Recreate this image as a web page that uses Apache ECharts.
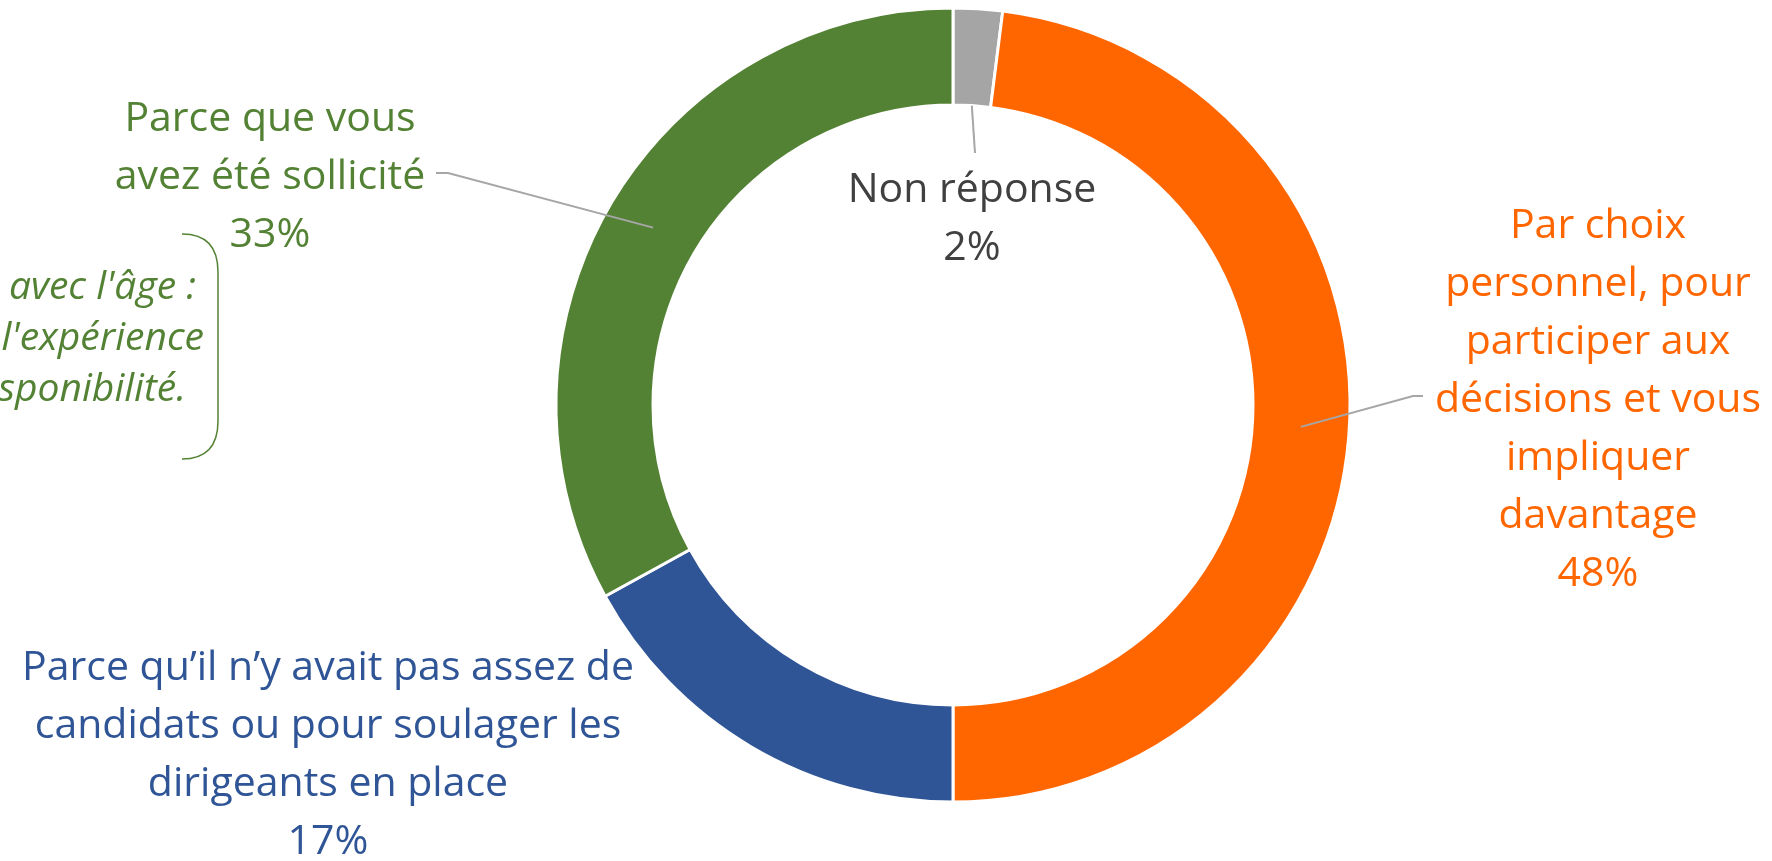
<!DOCTYPE html>
<html>
<head>
<meta charset="utf-8">
<script src="https://cdn.jsdelivr.net/npm/echarts@6/dist/echarts.min.js"></script>
<style>
  html, body { margin: 0; padding: 0; background: #fff; }
  #chart { width: 1772px; height: 861px; }
</style>
</head>
<body>
<div id="chart"></div>
<script>
// data
const categories = [
  'Non réponse',
  'Par choix\npersonnel, pour\nparticiper aux\ndécisions et vous\nimpliquer\ndavantage',
  'Parce qu’il n’y avait pas assez de\ncandidats ou pour soulager les\ndirigeants en place',
  'Parce que vous\navez été sollicité'
]
const shares = [2, 48, 17, 33]
const sliceColors = ['#A5A5A5', '#FF6600', '#2F5597', '#548235']
const labelColors = ['#404040', '#FF6600', '#2F5597', '#548235']
const noteLines = ["avec l'âge :", "l'expérience", 'sponibilité.']

const cx = 953
const cy = 405
const rIn = 300
const rOut = 397

// where each label sits and where its leader line bends
const labelPos = [
  { x: 972, y: 219, bend: [[975, 153]], from: 'inner' },
  { x: 1598, y: 400, bend: [[1413, 396], [1423, 396]], from: 'mid' },
  { x: 328, y: 755, bend: null },
  { x: 270, y: 177, bend: [[448, 173], [436, 173]], from: 'mid' }
]

const total = shares.reduce((a, b) => a + b, 0)
const midAngles = []
let acc = 0
shares.forEach(v => {
  midAngles.push((acc + v / 2) / total * Math.PI * 2)
  acc += v
})

function anchor(i) {
  const r = labelPos[i].from === 'inner' ? rIn : (rIn + rOut) / 2
  return [cx + r * Math.sin(midAngles[i]), cy - r * Math.cos(midAngles[i])]
}

const chart = echarts.init(document.getElementById('chart'))

const braceStyle = { fill: 'none', stroke: '#548235', lineWidth: 1.5 }

const pieBase = {
  type: 'pie',
  center: [cx, cy],
  radius: [rIn, rOut],
  startAngle: 90,
  clockwise: true,
  avoidLabelOverlap: false,
  emphasis: { disabled: true }
}

const option = {
  animation: false,
  textStyle: { fontFamily: 'Open Sans' },
  series: [
    // the ring itself
    Object.assign({}, pieBase, {
      z: 1,
      itemStyle: { borderColor: '#fff', borderWidth: 3 },
      label: { show: false },
      labelLine: { show: false },
      data: categories.map((name, i) => ({
        name,
        value: shares[i],
        itemStyle: { color: sliceColors[i] }
      }))
    }),
    // labels + leader lines drawn over the ring
    Object.assign({}, pieBase, {
      z: 3,
      silent: true,
      itemStyle: { color: 'transparent', borderWidth: 0 },
      label: {
        show: true,
        fontFamily: 'Open Sans',
        fontSize: 41,
        lineHeight: 58,
        align: 'center',
        formatter: p => p.name + '\n' + p.value + '%'
      },
      labelLine: {
        show: true,
        lineStyle: { color: '#A6A6A6', width: 2 }
      },
      labelLayout: params => {
        const i = params.dataIndex
        const pos = labelPos[i]
        const out = { x: pos.x, y: pos.y, align: 'center', verticalAlign: 'middle' }
        if (pos.bend) out.labelLinePoints = [anchor(i)].concat(pos.bend)
        return out
      },
      data: categories.map((name, i) => ({
        name,
        value: shares[i],
        label: { color: labelColors[i] },
        labelLine: { show: !!labelPos[i].bend }
      }))
    })
  ],
  graphic: [
    {
      type: 'bezierCurve',
      shape: { x1: 182, y1: 234, cpx1: 218, cpy1: 234, x2: 218, y2: 272 },
      style: braceStyle
    },
    {
      type: 'line',
      shape: { x1: 218, y1: 272, x2: 218, y2: 421 },
      style: braceStyle
    },
    {
      type: 'bezierCurve',
      shape: { x1: 218, y1: 421, cpx1: 218, cpy1: 459, x2: 182, y2: 459 },
      style: braceStyle
    },
    ...noteLines.map((t, k) => ({
      type: 'text',
      x: [196, 204, 186][k],
      y: [288, 339, 390][k],
      style: {
        text: t,
        fill: '#548235',
        font: 'italic 39px "Open Sans"',
        textAlign: 'right',
        textVerticalAlign: 'middle'
      }
    }))
  ]
}

chart.setOption(option)
</script>
</body>
</html>
